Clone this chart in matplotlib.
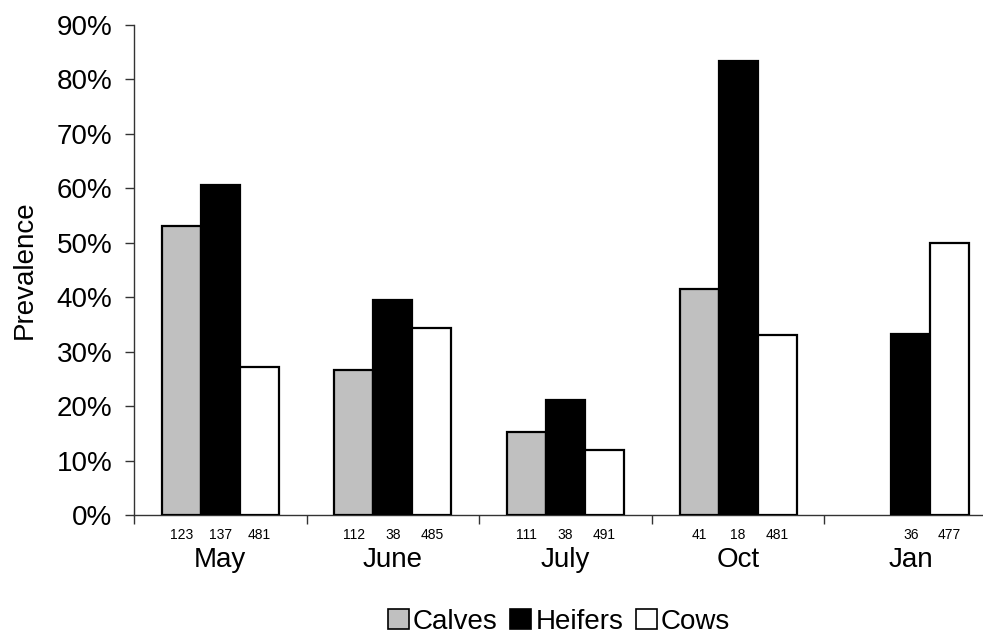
import matplotlib
matplotlib.use("Agg")
import matplotlib.pyplot as plt
from matplotlib.transforms import blended_transform_factory, offset_copy
from matplotlib.patches import Patch
import numpy as np

months = ["May", "June", "July", "Oct", "Jan"]
series = ["Calves", "Heifers", "Cows"]
calves = [53.0, 26.7, 15.3, 41.5, np.nan]
heifers = [60.7, 39.5, 21.1, 83.3, 33.3]
cows = [27.2, 34.3, 12.0, 33.0, 50.0]
calves_n = ["123", "112", "111", "41", ""]
heifers_n = ["137", "38", "38", "18", "36"]
cows_n = ["481", "485", "491", "481", "477"]
yticks = [0, 10, 20, 30, 40, 50, 60, 70, 80, 90]
colors = ["#c0c0c0", "#000000", "#ffffff"]

plt.rcParams['font.family'] = ['Liberation Sans', 'DejaVu Sans']

W, H = 983, 635
fig = plt.figure(figsize=(W / 100, H / 100), dpi=100)
left_px, right_px, bot_px, top_px = 134, 997, 515, 25
ax = fig.add_axes([left_px / W, (H - bot_px) / H, (right_px - left_px) / W, (bot_px - top_px) / H])

x = np.arange(len(months)) + 0.5
bw = 0.226
data = [calves, heifers, cows]
labels_n = [calves_n, heifers_n, cows_n]
for i, (vals, c) in enumerate(zip(data, colors)):
    ax.bar(x + (i - 1) * bw, vals, bw, color=c, edgecolor="black", linewidth=1.6, zorder=3)

ax.set_xlim(0, len(months))
ax.set_ylim(0, 90)
ax.set_yticks(yticks)
ax.set_yticklabels([f"{v}%" for v in yticks], fontsize=20)
for s in ["top", "right"]:
    ax.spines[s].set_visible(False)
for s in ["left", "bottom"]:
    ax.spines[s].set_linewidth(1.0)
    ax.spines[s].set_color("#333333")
ax.tick_params(axis="y", length=6.5, width=1.0, color="#333333", pad=9)

ax.set_xticks(np.arange(len(months) + 1), minor=True)
ax.set_xticks(x)
ax.set_xticklabels(months, fontsize=20)
ax.tick_params(axis="x", which="major", length=0, pad=23)
ax.tick_params(axis="x", which="minor", length=6.5, width=1.0, color="#333333")

trans = blended_transform_factory(ax.transData, ax.transAxes)
trans = offset_copy(trans, fig=fig, x=0, y=-20, units="dots")
for i, labs in enumerate(labels_n):
    for j, lab in enumerate(labs):
        if lab:
            ax.text(x[j] + (i - 1) * bw, 0, lab, transform=trans, ha="center", va="center", fontsize=10)

ax.set_ylabel("Prevalence", fontsize=20, labelpad=14)

handles = [Patch(facecolor=c, edgecolor="black", linewidth=1.2) for c in colors]
fig.legend(handles, series, loc="center", bbox_to_anchor=(559 / W, (H - 622) / H), ncol=3,
           frameon=False, fontsize=20, handlelength=0.75, handleheight=0.75, handletextpad=0.15,
           columnspacing=0.45, borderaxespad=0, borderpad=0)

fig.savefig("out.png", dpi=100)
